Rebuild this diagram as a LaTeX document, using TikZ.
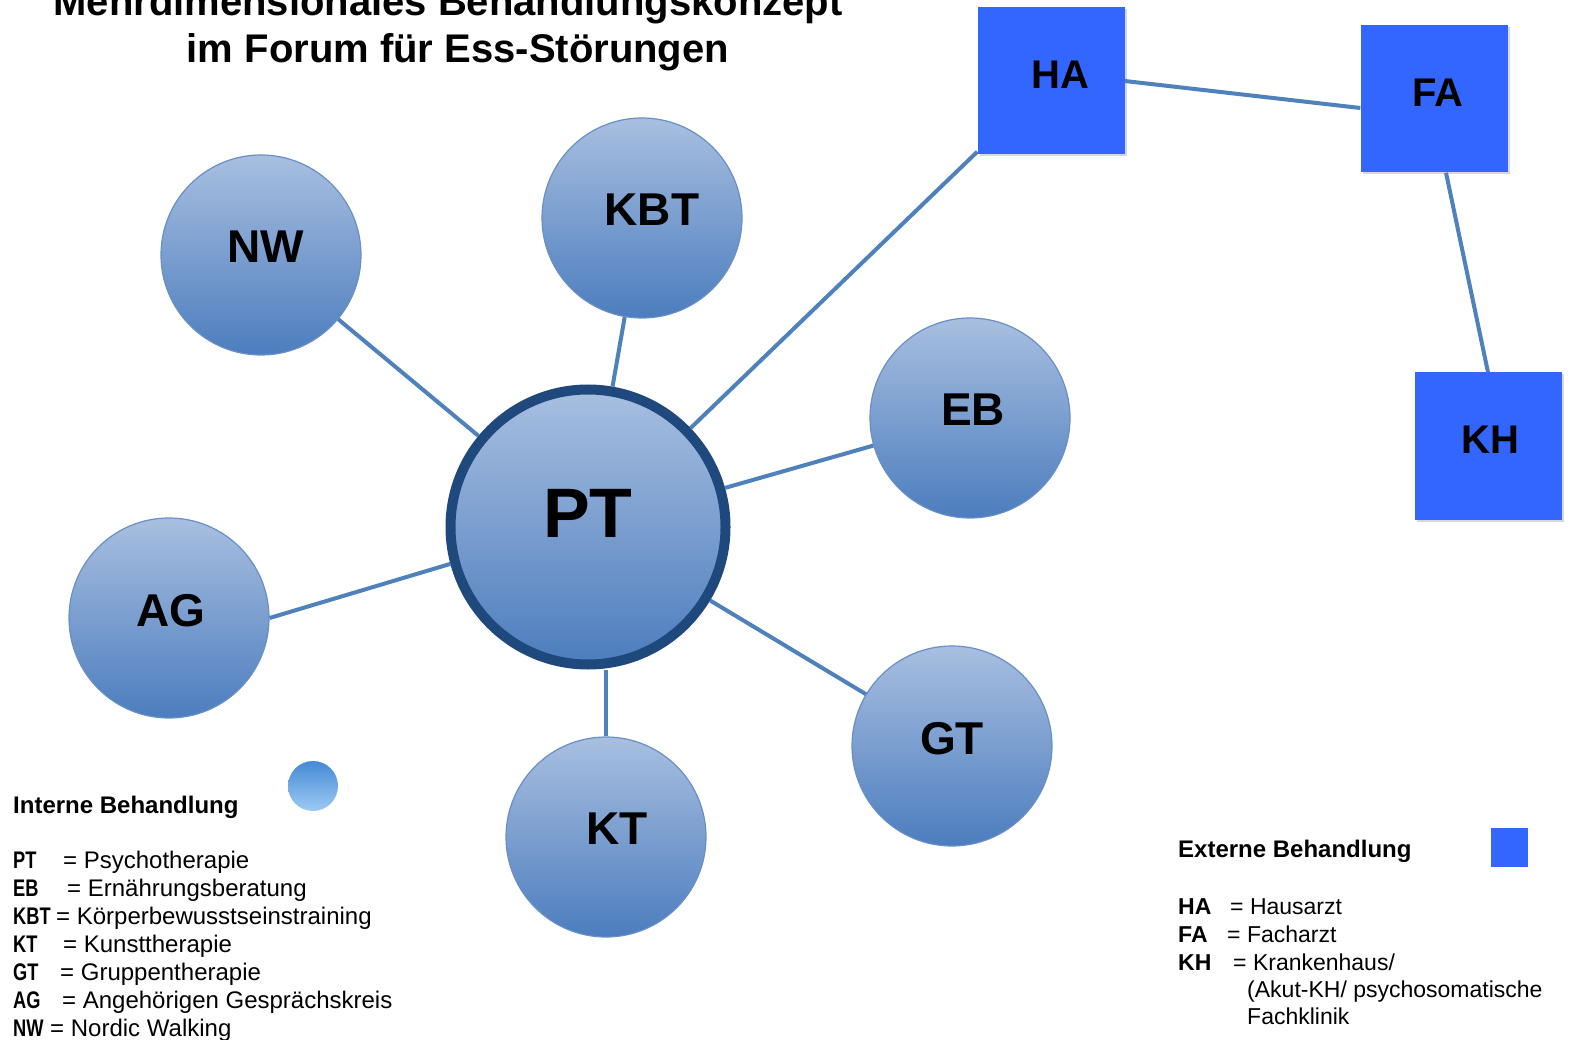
\documentclass[tikz,border=0pt]{standalone}
\usepackage{fontspec}
\setmainfont{Liberation Sans}
\usepackage{graphicx}
\usetikzlibrary{calc,shadows}
\definecolor{ballTop}{RGB}{168,191,224}
\definecolor{ballBot}{RGB}{76,125,190}
\definecolor{ballEdge}{RGB}{105,143,198}
\definecolor{ptRing}{RGB}{31,72,125}
\definecolor{extBlue}{RGB}{51,102,255}
\definecolor{linkBlue}{RGB}{79,129,189}
\definecolor{keyTop}{RGB}{68,138,214}
\definecolor{keyBot}{RGB}{158,202,245}
\newcommand{\abk}[2]{\makebox[#1][l]{\scalebox{0.76}[1]{\bfseries #2}}}
\newcommand{\abr}[2]{\makebox[#1][l]{\bfseries #2}}

\begin{document}
\begin{tikzpicture}[x=1pt,y=-1pt,
    intern/.style={circle,minimum size=200pt,inner sep=0pt,top color=ballTop,bottom color=ballBot,draw=ballEdge,line width=1.2pt,font=\fontsize{46}{46}\selectfont\bfseries,text depth=16pt},
    extern/.style={rectangle,minimum size=147pt,inner sep=0pt,fill=extBlue,font=\fontsize{40}{40}\selectfont\bfseries,text depth=12pt,drop shadow={shadow xshift=2pt,shadow yshift=-2pt,opacity=0.3}},
    link/.style={draw=linkBlue,line width=4pt},
    titletext/.style={anchor=base,inner sep=0pt,font=\fontsize{40}{47}\selectfont\bfseries},
    legtext/.style={anchor=base west,inner sep=0pt,font=\fontsize{23}{28}\selectfont},
    legleft/.style={legtext,font=\fontsize{24}{28}\selectfont},
    leghead/.style={legtext,font=\fontsize{24}{28}\selectfont\bfseries}]
    %%%%% FRAME %%%%%
    \path[use as bounding box,fill=white] (0,0) rectangle (1571,1040);

    %%%%% TITLE %%%%%
    \node[titletext] (titleA) at (448,16) {Mehrdimensionales Behandlungskonzept};
    \node[titletext] (titleB) at (458,63) {im Forum für Ess-Störungen};

    %%%%% INTERNAL %%%%%
    \node[intern] (NW) at (261,255) {\hspace*{10pt}NW};
    \node[intern] (KBT) at (642,218) {\hspace*{20pt}KBT};
    \node[intern] (EB) at (970,418) {\hspace*{6pt}EB};
    \node[intern] (AG) at (169,618) {\hspace*{4pt}AG};
    \node[intern] (GT) at (952,746) {GT};
    \node[intern] (KT) at (606,837) {\hspace*{22pt}KT};
    \node[intern,minimum size=275pt,draw=ptRing,line width=10pt,font=\fontsize{70}{70}\selectfont\bfseries,text depth=28pt] (PT) at (588,527) {PT};

    %%%%% EXTERNAL %%%%%
    \node[extern] (HA) at (1051,81) {\hspace*{18pt}HA};
    \node[extern] (FA) at (1434,99) {\hspace*{8pt}FA};
    \node[extern] (KH) at (1488,446) {\hspace*{5pt}KH};

    %%%%% LINKS %%%%%
    \draw[link] (NW) -- (PT);
    \draw[link] (KBT) -- (PT);
    \draw[link] (EB) -- (PT);
    \draw[link] (GT) -- (PT);
    \draw[link] (AG.east) -- (PT.195);
    \draw[link] (KT.north) -- (KT.north |- PT.south);
    \draw[link] (PT) -- (HA);
    \draw[link] (HA.east) -- ([yshift=-9pt]FA.west);
    \draw[link] ([xshift=12pt]FA.south) -- (KH.north);

    %%%%% LEGEND LEFT %%%%%
    \node[leghead] (intHead) at (13,813) {Interne Behandlung};
    \node[circle,minimum size=50pt,inner sep=0pt,top color=keyTop,bottom color=keyBot] (intKey) at (313,786) {};
    \node[legleft] (legPT) at (13,868) {\abk{50pt}{PT}= Psychotherapie};
    \node[legleft] (legEB) at (13,896) {\abk{54pt}{EB}= Ernährungsberatung};
    \node[legleft] (legKBT) at (13,924) {\abk{43pt}{KBT}= Körperbewusstseinstraining};
    \node[legleft] (legKT) at (13,952) {\abk{50pt}{KT}= Kunsttherapie};
    \node[legleft] (legGT) at (13,980) {\abk{47pt}{GT}= Gruppentherapie};
    \node[legleft] (legAG) at (13,1008) {\abk{49pt}{AG}= Angehörigen Gesprächskreis};
    \node[legleft] (legNW) at (13,1036) {\abk{37pt}{NW}= Nordic Walking};

    %%%%% LEGEND RIGHT %%%%%
    \node[leghead] (extHead) at (1178,857) {Externe Behandlung};
    \node[rectangle,minimum width=37pt,minimum height=39pt,inner sep=0pt,fill=extBlue] (extKey) at (1509,847) {};
    \node[legtext] (legHA) at (1178,914) {\abr{52pt}{HA}= Hausarzt};
    \node[legtext] (legFA) at (1178,942) {\abr{49pt}{FA}= Facharzt};
    \node[legtext] (legKH) at (1178,970) {\abr{55pt}{KH}= Krankenhaus/};
    \node[legtext] (legKHa) at (1247,997) {(Akut-KH/ psychosomatische};
    \node[legtext] (legKHb) at (1247,1024) {Fachklinik};
\end{tikzpicture}
\end{document}
